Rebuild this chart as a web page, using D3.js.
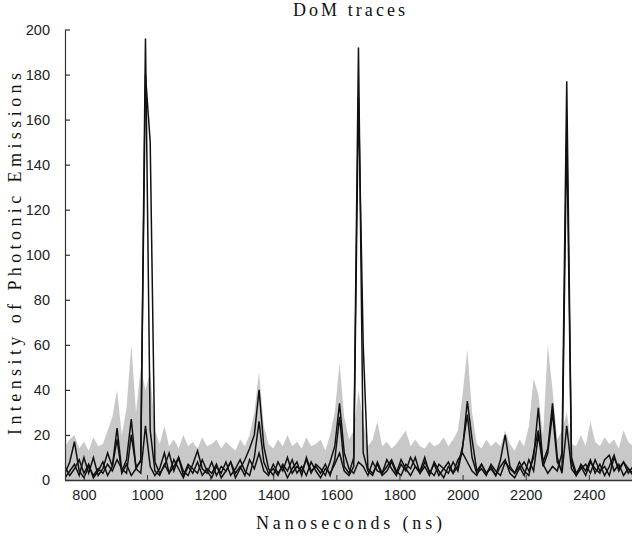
<!DOCTYPE html>
<html>
<head>
<meta charset="utf-8">
<script src="https://cdn.jsdelivr.net/npm/d3@7"></script>
<style>
  body { margin: 0; background: #fff; }
  .tick text { font-family: "Liberation Sans", Arial, sans-serif; font-size: 14.5px; fill: #222; }
  .lbl { font-family: "Liberation Serif", "DejaVu Serif", serif; fill: #111; font-size: 18px; }
</style>
</head>
<body>
<script>
// sample times (ns)
var times = [740, 755, 770, 785, 800, 815, 830, 845, 860, 875,
  890, 905, 920, 935, 950, 965, 980, 995, 1010, 1025,
  1040, 1055, 1070, 1085, 1100, 1115, 1130, 1145, 1160, 1175,
  1190, 1205, 1220, 1235, 1250, 1265, 1280, 1295, 1310, 1325,
  1340, 1355, 1370, 1385, 1400, 1415, 1430, 1445, 1460, 1475,
  1490, 1505, 1520, 1535, 1550, 1565, 1580, 1595, 1610, 1625,
  1640, 1655, 1670, 1685, 1700, 1715, 1730, 1745, 1760, 1775,
  1790, 1805, 1820, 1835, 1850, 1865, 1880, 1895, 1910, 1925,
  1940, 1955, 1970, 1985, 2000, 2015, 2030, 2045, 2060, 2075,
  2090, 2105, 2120, 2135, 2150, 2165, 2180, 2195, 2210, 2225,
  2240, 2255, 2270, 2285, 2300, 2315, 2330, 2345, 2360, 2375,
  2390, 2405, 2420, 2435, 2450, 2465, 2480, 2495, 2510, 2525,
  2540];

// upper edge of the grey bundle of background traces
var greyTop = [15, 18, 20, 14, 17, 13, 19, 15, 16, 22,
  28, 40, 20, 32, 60, 30, 50, 40, 48, 22,
  16, 24, 15, 18, 14, 20, 15, 17, 14, 19,
  15, 16, 18, 14, 17, 15, 13, 18, 15, 20,
  30, 48, 24, 16, 14, 18, 15, 20, 15, 17,
  14, 19, 15, 16, 18, 13, 20, 30, 52, 28,
  18, 22, 40, 26, 15, 18, 26, 15, 17, 14,
  16, 19, 22, 15, 18, 15, 14, 17, 15, 16,
  19, 15, 18, 22, 38, 58, 30, 16, 14, 18,
  15, 17, 15, 22, 16, 13, 18, 15, 24, 45,
  38, 20, 60, 40, 18, 22, 30, 16, 15, 20,
  15, 26, 17, 15, 19, 16, 18, 14, 22, 17,
  15];

// black traces
var traceA = [3, 8, 17, 4, 1, 6, 2, 5, 3, 7,
  4, 9, 5, 3, 20, 6, 8, 196, 22, 4,
  2, 7, 3, 9, 5, 1, 6, 3, 8, 2,
  5, 3, 7, 1, 4, 8, 3, 6, 2, 9,
  5, 12, 4, 2, 7, 3, 6, 1, 5, 8,
  2, 10, 4, 6, 3, 7, 2, 9, 28, 6,
  3, 10, 192, 12, 4, 2, 8, 3, 6, 9,
  4, 2, 7, 5, 10, 3, 6, 2, 8, 4,
  1, 6, 3, 9, 12, 8, 4, 2, 7, 3,
  5, 2, 6, 9, 3, 1, 5, 8, 4, 10,
  32, 7, 3, 6, 4, 12, 177, 10, 3, 6,
  2, 8, 5, 3, 9, 11, 4, 7, 2, 5,
  3];

var traceB = [6, 2, 5, 9, 3, 7, 1, 4, 8, 2,
  6, 18, 3, 7, 2, 5, 9, 180, 150, 8,
  3, 6, 12, 4, 10, 2, 7, 5, 3, 9,
  4, 1, 6, 3, 8, 2, 5, 9, 4, 2,
  10, 26, 8, 3, 5, 2, 7, 4, 9, 3,
  6, 2, 8, 4, 1, 5, 3, 7, 12, 4,
  2, 6, 170, 60, 5, 3, 7, 2, 4, 8,
  3, 9, 5, 2, 6, 4, 10, 3, 7, 2,
  5, 8, 3, 6, 15, 29, 10, 3, 5, 2,
  7, 4, 2, 8, 5, 3, 6, 2, 9, 4,
  20, 6, 12, 30, 8, 4, 155, 8, 2, 5,
  7, 3, 9, 4, 6, 2, 10, 5, 8, 3,
  6];

var traceC = [1, 4, 7, 2, 10, 3, 10, 2, 5, 12,
  6, 23, 4, 9, 27, 5, 3, 24, 6, 2,
  5, 12, 3, 6, 10, 4, 2, 7, 13, 5,
  3, 8, 2, 6, 4, 8, 1, 5, 9, 14,
  20, 40, 15, 5, 2, 8, 4, 10, 3, 6,
  4, 9, 3, 7, 5, 2, 8, 15, 34, 12,
  5, 3, 8, 6, 2, 8, 4, 3, 9, 5,
  2, 7, 4, 10, 6, 3, 8, 4, 2, 7,
  5, 3, 8, 4, 14, 35, 18, 4, 7, 3,
  6, 2, 9, 20, 6, 3, 8, 4, 2, 12,
  22, 8, 14, 34, 10, 3, 24, 5, 2, 7,
  4, 9, 3, 7, 2, 6, 11, 4, 8, 5,
  2];

var xTicks = [800, 1000, 1200, 1400, 1600, 1800, 2000, 2200, 2400];
var yTicks = [0, 20, 40, 60, 80, 100, 120, 140, 160, 180, 200];

var W = 632, H = 538;

var svg = d3.select("body").append("svg")
    .attr("width", W)
    .attr("height", H);

svg.append("rect").attr("width", W).attr("height", H).attr("fill", "#fff");

var x = d3.scaleLinear().domain([740, 2540]).range([65, 633]);
var y = d3.scaleLinear().domain([0, 200]).range([480, 29.5]);

// clip to plot area
svg.append("clipPath").attr("id", "plot")
  .append("rect").attr("x", 65).attr("y", 0).attr("width", 633 - 65).attr("height", 480);

var plot = svg.append("g").attr("clip-path", "url(#plot)");

// grey band
var area = d3.area()
    .x(function(d, i) { return x(times[i]); })
    .y0(y(0))
    .y1(function(d) { return y(d); });

plot.append("path")
    .datum(greyTop)
    .attr("d", area)
    .attr("fill", "#c8c8c8");

// black traces
var line = d3.line()
    .x(function(d, i) { return x(times[i]); })
    .y(function(d) { return y(d); });

[traceC, traceB, traceA].forEach(function(t) {
  plot.append("path")
      .datum(t)
      .attr("d", line)
      .attr("fill", "none")
      .attr("stroke", "#111")
      .attr("stroke-width", 1.5)
      .attr("stroke-linejoin", "miter");
});

// axes
var xAxis = d3.axisBottom(x)
    .tickValues(xTicks)
    .tickFormat(d3.format("d"))
    .tickSizeInner(-5)
    .tickSizeOuter(0)
    .tickPadding(10);

svg.append("g")
    .attr("transform", "translate(0,480)")
    .call(xAxis)
    .call(function(g) {
      g.select(".domain").attr("stroke", "#333").attr("stroke-width", 1.5);
      g.selectAll(".tick line").attr("stroke", "#333");
    });

var yAxis = d3.axisLeft(y)
    .tickValues(yTicks)
    .tickFormat(d3.format("d"))
    .tickSizeInner(-5)
    .tickSizeOuter(0)
    .tickPadding(15);

svg.append("g")
    .attr("transform", "translate(65,0)")
    .call(yAxis)
    .call(function(g) {
      g.select(".domain").attr("stroke", "#333").attr("stroke-width", 1.2);
      g.selectAll(".tick line").attr("stroke", "#333").attr("stroke-width", 1.2);
    });

// labels (monospaced look: fixed text lengths)
svg.append("text")
    .attr("class", "lbl")
    .attr("x", 349)
    .attr("y", 16)
    .attr("text-anchor", "middle")
    .attr("textLength", 112)
    .attr("lengthAdjust", "spacing")
    .text("DoM traces");

svg.append("text")
    .attr("class", "lbl")
    .attr("x", 349)
    .attr("y", 529)
    .attr("text-anchor", "middle")
    .attr("textLength", 186)
    .attr("lengthAdjust", "spacing")
    .text("Nanoseconds (ns)");

svg.append("text")
    .attr("class", "lbl")
    .attr("transform", "translate(21,254) rotate(-90)")
    .attr("text-anchor", "middle")
    .attr("textLength", 362)
    .attr("lengthAdjust", "spacing")
    .text("Intensity of Photonic Emissions");
</script>
</body>
</html>
